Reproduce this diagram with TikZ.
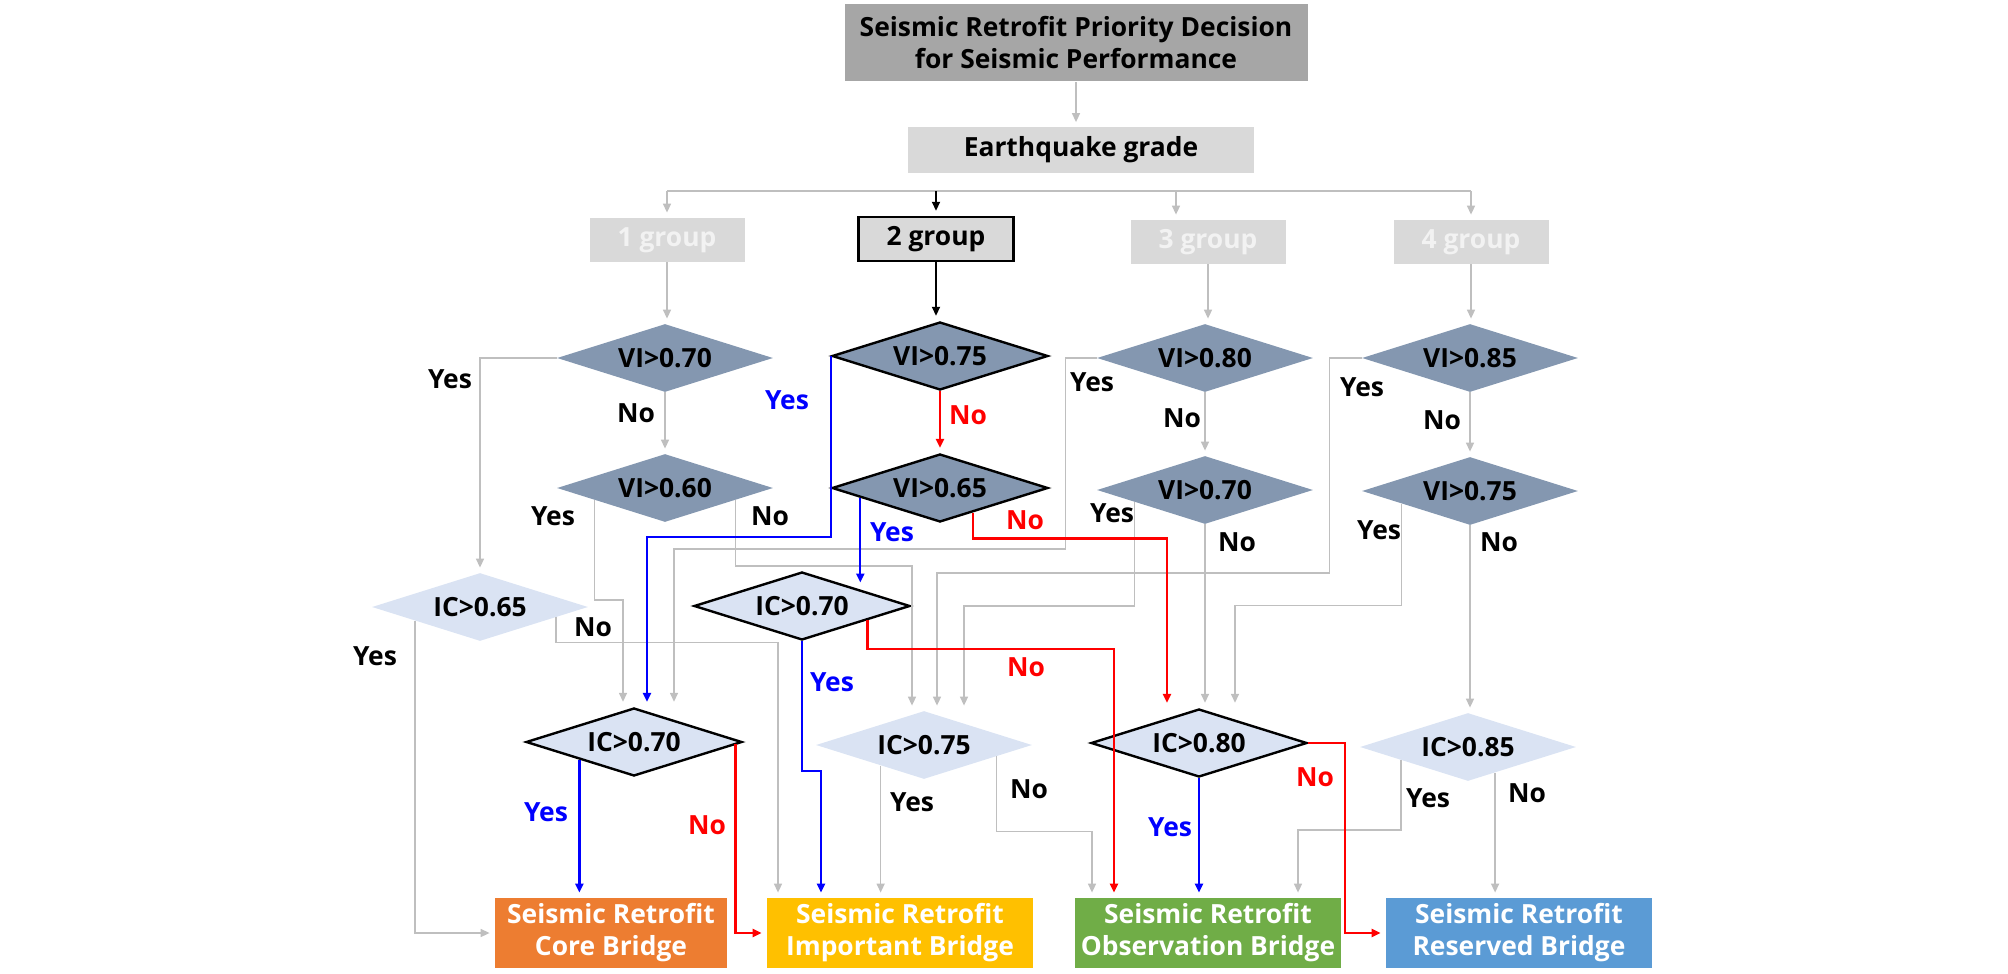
\documentclass[tikz,border=0pt]{standalone}
\usepackage{fontspec}
\setmainfont{Open Sans}
\usetikzlibrary{shapes.geometric,arrows.meta,calc,positioning}

\definecolor{titlegray}{HTML}{A6A6A6}
\definecolor{boxgray}{HTML}{D9D9D9}
\definecolor{grptext}{HTML}{F2F2F2}
\definecolor{vigray}{HTML}{8497B0}
\definecolor{icblue}{HTML}{DAE3F3}
\definecolor{linegray}{HTML}{BFBFBF}
\definecolor{coreor}{HTML}{ED7D31}
\definecolor{impyel}{HTML}{FFC000}
\definecolor{obsgreen}{HTML}{70AD47}
\definecolor{resblue}{HTML}{5B9BD5}

\begin{document}
\begin{tikzpicture}[x=0.5pt, y=-0.5pt, font=\fontsize{13.2}{16}\selectfont\bfseries,
    tip/.style={-{Triangle[length=4.5pt,width=4pt]}, shorten >=2.5pt},
    gline/.style={draw=linegray, line width=0.75pt},
    garr/.style={gline, tip},
    barr/.style={draw=black, line width=0.9pt, tip},
    bluearr/.style={draw=blue, line width=1.2pt, tip},
    redarr/.style={draw=red, line width=1.2pt, tip},
    tbox/.style={rectangle, inner sep=0pt, align=center},
    grp/.style={tbox, fill=boxgray, text=grptext, minimum width=77.5pt, minimum height=22pt},
    vi/.style={diamond, aspect=3.2, inner sep=0pt, minimum width=108pt, minimum height=34pt, fill=vigray},
    ic/.style={vi, fill=icblue},
    sel/.style={draw=black, line width=1.2pt},
    rbox/.style={tbox, text=white, minimum width=133pt, minimum height=35pt}]

\useasboundingbox (0,0) rectangle (2008,974);

% boxes
\node[tbox, fill=titlegray, minimum width=231.5pt, minimum height=38.5pt] (title) at (1076,43) {Seismic Retrofit Priority Decision\\for Seismic Performance};
\node[tbox, fill=boxgray, minimum width=173pt, minimum height=22.5pt] (eq) at (1081,150) {Earthquake grade};
\coordinate (bus) at (1081,191);
\foreach \g/\x/\y in {1/667/240, 3/1208/242, 4/1471/242}
    \node[grp] (g\g) at (\x,\y) {\g\ group};
\node[grp, sel, text=black] (g2) at (936,239) {2 group};

% decisions
\node[vi] (v11) at (665,358) {VI>0.70};
\node[vi] (v12) at (665,488) {VI>0.60};
\node[vi, sel] (v21) at (940,356) {VI>0.75};
\node[vi, sel] (v22) at (940,488) {VI>0.65};
\node[vi] (v31) at (1205,358) {VI>0.80};
\node[vi] (v32) at (1205,490) {VI>0.70};
\node[vi] (v41) at (1470,358) {VI>0.85};
\node[vi] (v42) at (1470,491) {VI>0.75};
\node[ic] (c1) at (480,607) {IC>0.65};
\node[ic, sel] (c2a) at (802,606) {IC>0.70};
\node[ic, sel] (c2b) at (634,742) {IC>0.70};
\node[ic] (c3) at (924,745) {IC>0.75};
\node[ic, sel] (c4) at (1199,743) {IC>0.80};
\node[ic] (c5) at (1468,747) {IC>0.85};

% results
\node[rbox, fill=coreor, minimum width=116pt] (core) at (611,933) {Seismic Retrofit\\Core Bridge};
\node[rbox, fill=impyel] (imp) at (900,933) {Seismic Retrofit\\Important Bridge};
\node[rbox, fill=obsgreen] (obs) at (1208,933) {Seismic Retrofit\\Observation Bridge};
\node[rbox, fill=resblue] (res) at (1519,933) {Seismic Retrofit\\Reserved Bridge};

% top part
\draw[garr] (title.south) -- (title.south |- eq.north);
\draw[gline] (g1.north |- bus) -- (g4.north |- bus);
\foreach \g in {1,4}
    \draw[garr] (g\g.north |- bus) -- (g\g.north);
\draw[garr] ([xshift=-16pt]g3.north |- bus) -- ([xshift=-16pt]g3.north);
\draw[barr] (g2.north |- bus) -- (g2.north);
\foreach \g in {1,3,4} {
    \draw[garr] (g\g.south) -- (g\g.south |- v\g1.north);
    \draw[garr] (v\g1.south) -- (v\g1.south |- v\g2.north);
}
\draw[barr] (g2.south) -- (g2.south |- v21.north);

% gray paths
\draw[garr] (v11.west) -| (c1.north);
\draw[garr] ($(v12.west)!0.35!(v12.south)$) -- ++(0,100) -| ([xshift=-5.5pt]c2b.north);
\draw[garr] ($(v12.east)!0.35!(v12.south)$) -- ++(0,66) -| ([xshift=-6pt]c3.north);
\draw[garr] ($(c1.west)!0.4!(c1.south)$) |- (core.west);
\draw[garr] ($(c1.east)!0.3!(c1.south)$) -- ++(0,25) -| ([xshift=-61pt]imp.north);
\draw[garr] (v31.west) -- ++(-31,0) -- ++(0,191) -| ([xshift=20pt]c2b.north);
\draw[garr] ($(v32.west)!0.35!(v32.south)$) -- ++(0,104) -| ([xshift=20pt]c3.north);
\draw[garr] (v32.south) -- (v32.south |- c4.north);
\draw[garr] (v41.west) -- ++(-32,0) -- ++(0,215) -| ([xshift=6.5pt]c3.north);
\draw[garr] ($(v42.west)!0.37!(v42.south)$) -- ++(0,102) -| ([xshift=18pt]c4.north);
\draw[garr] (v42.south) -- (v42.south |- c5.north);
\draw[garr] ($(c3.west)!0.6!(c3.south)$) coordinate (c3y) -- (c3y |- imp.north);
\draw[garr] ($(c3.east)!0.33!(c3.south)$) -- ++(0,75) -| ([xshift=-58pt]obs.north);
\draw[garr] ($(c5.west)!0.38!(c5.south)$) -- ++(0,70) -| ([xshift=45pt]obs.north);
\draw[garr] ($(c5.east)!0.75!(c5.south)$) coordinate (c5n) -- (c5n |- res.north);

% selected paths
\draw[bluearr] (v21.west) -- ++(0,181) -| ([xshift=6.5pt]c2b.north);
\draw[redarr] (v21.south) -- (v21.south |- v22.north);
\draw[bluearr] ($(v22.west)!0.27!(v22.south)$) -- ++(0,90);
\draw[redarr] ($(v22.east)!0.7!(v22.south)$) -- ++(0,26) -| ([xshift=-16pt]c4.north);
\draw[bluearr] (c2a.south) -- ++(0,130) -| ([xshift=-39.5pt]imp.north);
\draw[redarr] ($(c2a.east)!0.4!(c2a.south)$) -- ++(0,29) -| ([xshift=-47pt]obs.north);
\draw[bluearr] ($(c2b.west)!0.5!(c2b.south)$) coordinate (c2y) -- (c2y |- core.north);
\draw[redarr] ($(c2b.east)!0.07!(c2b.south)$) |- (imp.west);
\draw[bluearr] (c4.south) -- (c4.south |- obs.north);
\draw[redarr] (c4.east) -- ++(37,0) |- (res.west);

% yes / no
\foreach \x/\y/\t/\c [count=\i] in {
    450/379/Yes/black, 553/516/Yes/black, 375/656/Yes/black, 1092/382/Yes/black,
    1112/513/Yes/black, 1362/387/Yes/black, 1379/530/Yes/black, 912/802/Yes/black,
    1428/798/Yes/black, 636/413/No/black, 770/516/No/black, 593/627/No/black,
    1182/418/No/black, 1237/542/No/black, 1442/420/No/black, 1499/542/No/black,
    1029/789/No/black, 1527/793/No/black,
    787/400/Yes/blue, 892/532/Yes/blue, 832/682/Yes/blue, 546/812/Yes/blue, 1170/827/Yes/blue,
    968/415/No/red, 1025/520/No/red, 1026/667/No/red, 707/825/No/red, 1315/777/No/red}
    \node[text=\c, inner sep=0pt] (lab\i) at (\x,\y) {\t};

\end{tikzpicture}
\end{document}
